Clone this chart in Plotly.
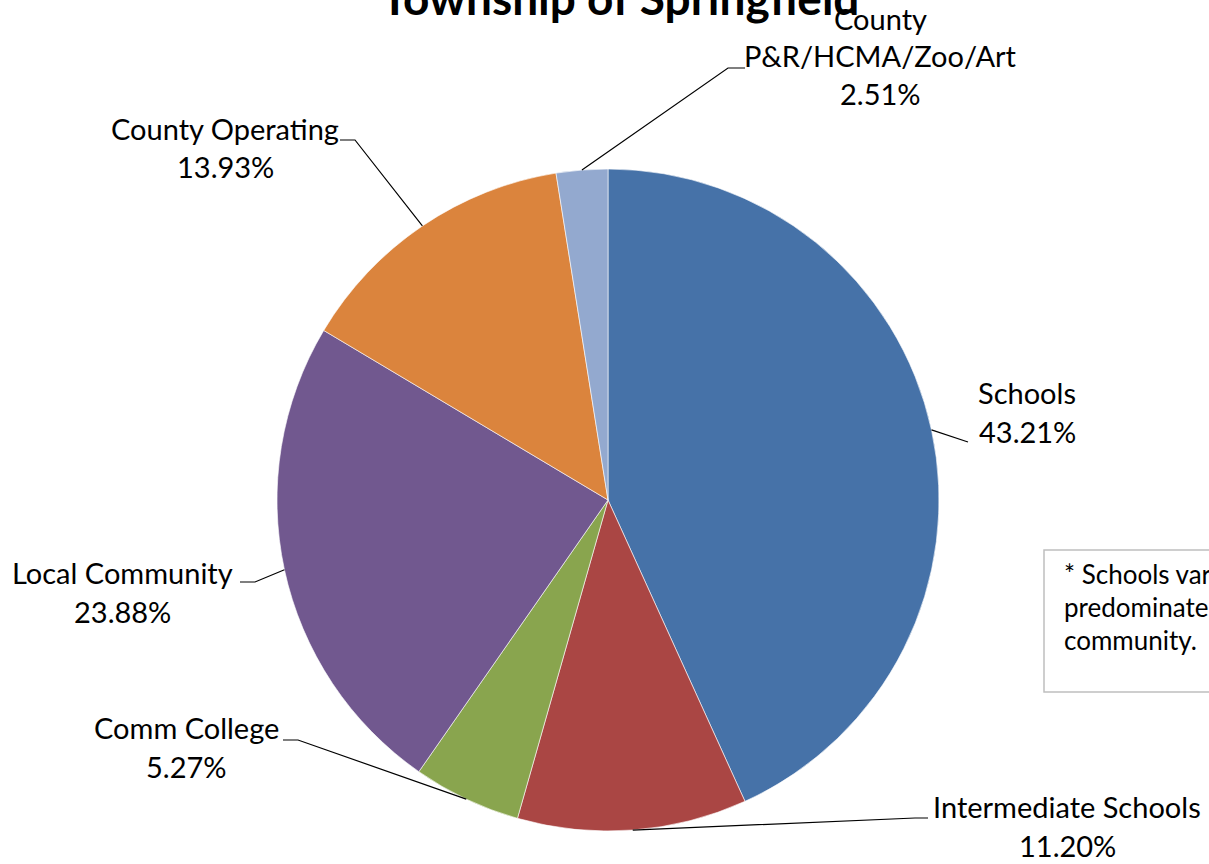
import math
import plotly.graph_objects as go

# ---- data ----
categories = ["Schools", "Intermediate Schools", "Comm College", "Local Community",
              "County Operating", "County P&R/HCMA/Zoo/Art"]
shares = [43.21, 11.20, 5.27, 23.88, 13.93, 2.51]
colors = ["#4672A8", "#AA4644", "#89A54E", "#71588F", "#DB843D", "#93A9CF"]
title_text = "Township of Springfield"
note_lines = ["* Schools vary based on the", "predominate school district in the", "community."]

# ---- layout constants (pixels) ----
W, H = 1209, 864
CX, CY, R = 608, 500, 331
FONT = "Lato"
LABEL_SIZE = 29

def px(x):
    return x / W

def py(y):
    return 1 - y / H

label_lines = [
    ["Schools"],
    ["Intermediate Schools"],
    ["Comm College"],
    ["Local Community"],
    ["County Operating"],
    ["County", "P&R/HCMA/Zoo/Art"],
]
label_pos = [(1027, 392), (1067, 806), (186, 727), (122, 572), (225, 128), (880, 18)]
elbows = [[(968, 442)], [(915, 818), (928, 818)], [(298, 740), (283, 740)],
          [(255, 582), (240, 582)], [(355, 140), (340, 140)], [(728, 68), (745, 68)]]
LINE_STEP = 39

fig = go.Figure(go.Pie(
    labels=categories, values=shares, sort=False, direction="clockwise", rotation=0,
    marker=dict(colors=colors, line=dict(color="white", width=0.6)),
    textinfo="none", hoverinfo="label+percent", showlegend=False,
    domain=dict(x=[px(CX - R), px(CX + R)], y=[py(CY + R), py(CY - R)]),
))

annotations = []
shapes = []
total = sum(shares)
cum = 0.0
for i, v in enumerate(shares):
    mid = (cum + v / 2) / total * 2 * math.pi
    cum += v
    ex = CX + R * math.sin(mid)
    ey = CY - R * math.cos(mid)
    pts = [(ex, ey)] + elbows[i]
    path = "M " + " L ".join(f"{px(a)},{py(b)}" for a, b in pts)
    shapes.append(dict(type="path", path=path, xref="paper", yref="paper",
                       line=dict(color="black", width=1.2)))
    lx, ly = label_pos[i]
    lines = label_lines[i] + [f"{v:.2f}%"]
    step = LINE_STEP if i != 5 else 38
    for k, t in enumerate(lines):
        annotations.append(dict(text=t, x=px(lx), y=py(ly + k * step),
                                xref="paper", yref="paper", showarrow=False,
                                xanchor="center", yanchor="middle",
                                font=dict(family=FONT, size=LABEL_SIZE, color="black")))

# title (partially off the top)
annotations.append(dict(text=f"<b>{title_text}</b>", x=px(620), y=py(-2), xref="paper", yref="paper",
                        showarrow=False, xanchor="center", yanchor="middle",
                        font=dict(family=FONT, size=46, color="black")))

# note box on the right
shapes.append(dict(type="rect", xref="paper", yref="paper", x0=px(1044), x1=px(1290),
                   y0=py(692), y1=py(550), line=dict(color="#BFBFBF", width=1.5),
                   fillcolor="white"))
for k, t in enumerate(note_lines):
    annotations.append(dict(text=t, x=px(1062), y=py(574 + k * 33), xref="paper", yref="paper",
                            showarrow=False, xanchor="left", yanchor="middle",
                            font=dict(family=FONT, size=26, color="black")))

fig.update_layout(width=W, height=H, margin=dict(l=0, r=0, t=0, b=0),
                  paper_bgcolor="white", plot_bgcolor="white",
                  shapes=shapes, annotations=annotations)
fig.write_html("out.html", config={"displayModeBar": False},
               post_script="document.body.style.margin='0';document.body.style.overflow='hidden';")
